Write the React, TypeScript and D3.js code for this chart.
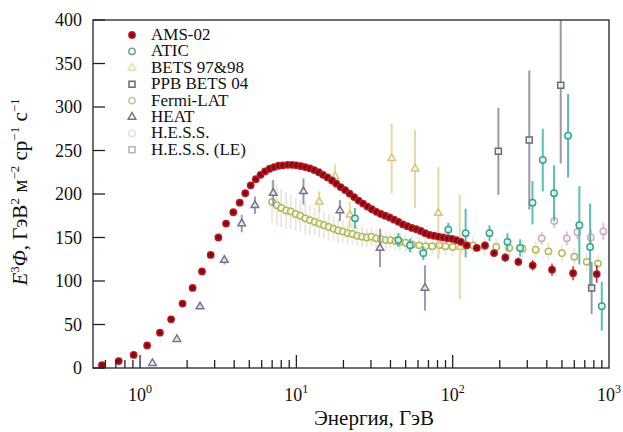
import React from "react";
import * as d3 from "d3";

// ---------------- DATA ----------------
const amsE = [0.57, 0.73, 0.91, 1.11, 1.34, 1.58, 1.87, 2.17, 2.49, 2.83, 3.17, 3.55, 3.95, 4.34, 4.71, 5.1, 5.5, 5.9, 6.3, 6.75, 7.2, 7.7, 8.2, 8.8, 9.4, 10.0, 10.7, 11.4, 12.2, 13.0, 13.9, 14.8, 15.8, 16.9, 18.0, 19.2, 20.5, 21.9, 23.4, 25.0, 26.7, 28.5, 30.4, 32.5, 34.7, 37.0, 39.5, 42.2, 45.0, 48.0, 51.3, 54.8, 58.5, 62.5, 66.7, 71.2, 76.0, 81.2, 86.7, 92.6, 98.9, 105.6, 112.8, 123, 142.6, 161, 184, 217, 263, 325, 432, 589, 835];
const amsV = [3.4, 8, 15, 26, 40.6, 56, 74, 92, 111, 130, 150, 166, 179, 190, 201, 210, 217, 222, 226, 229, 231, 232.5, 233, 233.5, 233.5, 233, 232, 231, 229.5, 227.5, 225, 222, 219, 215.5, 212, 208, 204.5, 200.5, 196.5, 192.5, 189, 185.5, 182.5, 179.5, 177, 175, 173, 170.5, 168, 165, 163, 161, 159.5, 157.5, 155, 153, 152, 151, 150, 149, 148.5, 147, 145, 141, 138, 141, 132, 127, 122, 118, 113, 109, 108];
const amsErr = [0, 0, 0, 0, 0, 0, 0, 0, 0, 0, 0, 0, 0, 0, 0, 0, 0, 0, 0, 0, 0, 0, 0, 0, 0, 0, 0, 0, 0, 0, 0, 0, 0, 0, 0, 0, 0, 0, 0, 0, 0, 0, 0, 0, 0, 0, 0, 0, 0, 0, 0, 0, 0, 0, 0, 0, 0, 0, 0, 0, 0, 0, 0, 3, 3, 4, 4, 5, 5, 6, 7, 8, 10];

const aticE = [23.7, 44.9, 53.3, 64.9, 93.8, 121, 172, 224, 270, 324, 377, 445, 547, 646, 757, 899];
const aticV = [172, 147, 141, 132, 159, 155, 155, 145, 138, 190, 239, 201, 267, 164, 139, 71];
const aticErr = [12, 8, 8, 8, 8, 28, 9, 10, 10, 25, 36, 32, 48, 45, 50, 28];

const betsE = [14.0, 17.7, 22.0, 40.7, 57.4, 81, 111];
const betsV = [191, 220, 176, 241, 229, 178, 139];
const betsErr = [12, 14, 15, 40, 45, 53, 60];

const ppbE = [196, 309, 491, 774];
const ppbV = [249, 262, 325, 92];
const ppbErr = [50, 80, 90, 30];

const fermiE = [7.0, 7.5, 8.0, 8.6, 9.2, 9.9, 10.6, 11.4, 12.2, 13.1, 14.0, 15.0, 16.1, 17.3, 18.5, 19.8, 21.3, 22.8, 24.5, 26.3, 28.2, 30.2, 32.4, 34.8, 37.3, 40.0, 43, 46, 50, 55, 61, 67, 74, 82, 90, 100, 115, 135, 160, 190, 230, 280, 340, 410, 500, 600, 720, 850];
const fermiV = [191, 187, 184, 181, 180, 177, 175, 172, 170, 168, 166, 164, 162, 160, 158, 157, 155, 154, 152, 151, 150, 151, 149, 148, 147, 147, 146, 145, 144, 142, 141, 140, 140, 141, 140, 139, 140, 141, 140, 139, 138, 137, 136, 134, 132, 128, 122, 120];
const fermiErr = [24, 23, 22, 21, 20, 19, 18, 18, 17, 16, 16, 15, 15, 14, 14, 13, 13, 12, 12, 12, 11, 11, 11, 10, 10, 10, 10, 10, 10, 10, 10, 10, 10, 10, 10, 10, 10, 10, 10, 10, 10, 10, 10, 10, 10, 10, 10, 10];

const heatE = [1.2, 1.72, 2.42, 3.46, 4.47, 5.43, 7.11, 11.1, 19.0, 34.3, 66.5];
const heatV = [5.4, 33, 70.5, 124, 166, 187, 201, 203, 181, 138, 92];
const heatErr = [1, 2, 3, 5, 10, 10, 15, 15, 12, 22, 26];

const hessE = [371, 447, 537, 628, 765, 920];
const hessV = [149, 169, 149, 156, 150, 157];
const hessErr = [7, 8, 8, 8, 9, 10];

const hessLeE: number[] = [];
const hessLeV: number[] = [];
const hessLeErr: number[] = [];

const yTicks = [0, 50, 100, 150, 200, 250, 300, 350, 400];
const xMajor = [1, 10, 100, 1000];
const xMajorExp = ["0", "1", "2", "3"];

// ---------------- STYLE ----------------
type Series = {
  name: string;
  E: number[];
  V: number[];
  err: number[];
  shape: "dot" | "circle" | "triangle" | "square";
  color: string;
  bar: string;
  barOpacity: number;
  legendColor: string;
};

const series: Series[] = [
  { name: "AMS-02", E: amsE, V: amsV, err: amsErr, shape: "dot", color: "#c8161e", bar: "#b3141c", barOpacity: 0.9, legendColor: "#d0141c" },
  { name: "ATIC", E: aticE, V: aticV, err: aticErr, shape: "circle", color: "#34a393", bar: "#3fb3a2", barOpacity: 0.85, legendColor: "#6fa79c" },
  { name: "BETS 97&98", E: betsE, V: betsV, err: betsErr, shape: "triangle", color: "#d8c67a", bar: "#e0d394", barOpacity: 0.85, legendColor: "#e6e09a" },
  { name: "PPB BETS 04", E: ppbE, V: ppbV, err: ppbErr, shape: "square", color: "#6c6878", bar: "#8a8694", barOpacity: 0.85, legendColor: "#6c6878" },
  { name: "Fermi-LAT", E: fermiE, V: fermiV, err: fermiErr, shape: "circle", color: "#b3ba5c", bar: "#d8d6c4", barOpacity: 0.55, legendColor: "#c4c6a8" },
  { name: "HEAT", E: heatE, V: heatV, err: heatErr, shape: "triangle", color: "#7a7290", bar: "#8e86a2", barOpacity: 0.85, legendColor: "#76728a" },
  { name: "H.E.S.S.", E: hessE, V: hessV, err: hessErr, shape: "circle", color: "#d2a8c2", bar: "#d9b6cb", barOpacity: 0.85, legendColor: "#e4e0e2" },
  { name: "H.E.S.S. (LE)", E: hessLeE, V: hessLeV, err: hessLeErr, shape: "square", color: "#b4b4b4", bar: "#c8c8c8", barOpacity: 0.85, legendColor: "#b4b4b4" },
];

const W = 623;
const H = 432;
const L = 93, R = 609, T = 20, B = 368;
const FONT = "Liberation Serif";

const x = d3.scaleLog().domain([0.5, 1000]).range([L, R]);
const y = d3.scaleLinear().domain([0, 400]).range([B, T]);

function Marker({ shape, cx, cy, color }: { shape: string; cx: number; cy: number; color: string }) {
  if (shape === "dot") {
    return <circle cx={cx} cy={cy} r={3.9} fill="url(#amsGrad)" />;
  }
  if (shape === "circle") {
    return <circle cx={cx} cy={cy} r={3.2} fill="white" fillOpacity={0.7} stroke={color} strokeWidth={1.5} />;
  }
  const type = shape === "triangle" ? d3.symbolTriangle : d3.symbolSquare;
  const size = shape === "triangle" ? 25 : 36;
  const p = d3.symbol().type(type).size(size)() || "";
  return <path d={p} transform={`translate(${cx},${cy})`} fill="white" fillOpacity={0.7} stroke={color} strokeWidth={1.5} />;
}

export default function App() {
  const minor = x.ticks().filter((t) => t > 0.5 && t < 1000);
  const drawOrder = [4, 2, 5, 6, 7, 1, 3, 0];
  return (
    <div style={{ position: "absolute", left: 0, top: 0 }}>
      <svg width={W} height={H} style={{ display: "block", background: "white" }}>
        <defs>
          <radialGradient id="amsGrad" cx="50%" cy="50%" r="50%">
            <stop offset="0%" stopColor="#5e0a14" />
            <stop offset="55%" stopColor="#8e0f1a" />
            <stop offset="100%" stopColor="#d81e24" />
          </radialGradient>
        </defs>

        {/* data */}
        {drawOrder.map((si) => {
          const s = series[si];
          return (
            <g key={s.name}>
              {s.E.map((e, i) =>
                s.err[i] > 0 ? (
                  <line
                    key={"e" + i}
                    x1={x(e)}
                    x2={x(e)}
                    y1={y(Math.min(400, s.V[i] + s.err[i]))}
                    y2={y(Math.max(0, s.V[i] - s.err[i]))}
                    stroke={s.bar}
                    strokeWidth={si === 0 ? 1.5 : 2}
                    strokeOpacity={s.barOpacity}
                  />
                ) : null
              )}
              {s.E.map((e, i) => (
                <Marker key={"m" + i} shape={s.shape} cx={x(e)} cy={y(s.V[i])} color={s.color} />
              ))}
            </g>
          );
        })}

        {/* frame */}
        <rect x={L} y={T} width={R - L} height={B - T} fill="none" stroke="#222" strokeWidth={1.3} />

        {/* y ticks */}
        {yTicks.map((t) => (
          <g key={"y" + t}>
            <line x1={L} x2={L + 12} y1={y(t)} y2={y(t)} stroke="#222" strokeWidth={1.3} />
            <text x={82} y={y(t) + 6} textAnchor="end" fontSize={18} fill="#111" fontFamily={FONT}>
              {t}
            </text>
          </g>
        ))}

        {/* x ticks */}
        {minor.map((t, i) => {
          const major = xMajor.includes(t);
          return (
            <line key={"x" + i} x1={x(t)} x2={x(t)} y1={B} y2={B - (major ? 13 : 8)} stroke="#222" strokeWidth={1.3} />
          );
        })}
        {xMajor.map((t, i) => (
          <text key={"xl" + t} x={x(t)} y={401} textAnchor="middle" fontSize={18} fill="#111" fontFamily={FONT}>
            10
            <tspan dy={-8} fontSize={12}>
              {xMajorExp[i]}
            </tspan>
          </text>
        ))}

        {/* axis titles */}
        <text x={374} y={425} textAnchor="middle" fontSize={21} fill="#111" fontFamily={FONT}>
          Энергия, ГэВ
        </text>
        <text transform="translate(27,192) rotate(-90)" textAnchor="middle" fontSize={21} fill="#111" fontFamily={FONT}>
          <tspan fontStyle="italic">E</tspan>
          <tspan dy={-8} fontSize={13}>3</tspan>
          <tspan dy={8} fontStyle="italic">Φ</tspan>
          <tspan>, ГэВ</tspan>
          <tspan dy={-8} fontSize={13}>2</tspan>
          <tspan dy={8}> м</tspan>
          <tspan dy={-8} fontSize={13}>−2</tspan>
          <tspan dy={8}> ср</tspan>
          <tspan dy={-8} fontSize={13}>−1</tspan>
          <tspan dy={8}> с</tspan>
          <tspan dy={-8} fontSize={13}>−1</tspan>
        </text>

        {/* legend */}
        {series.map((s, i) => {
          const cy = 35 + i * 16.4;
          return (
            <g key={"lg" + s.name}>
              <Marker shape={s.shape} cx={132} cy={cy} color={s.legendColor} />
              <text x={151} y={cy + 5} fontSize={17} fill="#111" fontFamily={FONT}>
                {s.name}
              </text>
            </g>
          );
        })}
      </svg>
    </div>
  );
}
